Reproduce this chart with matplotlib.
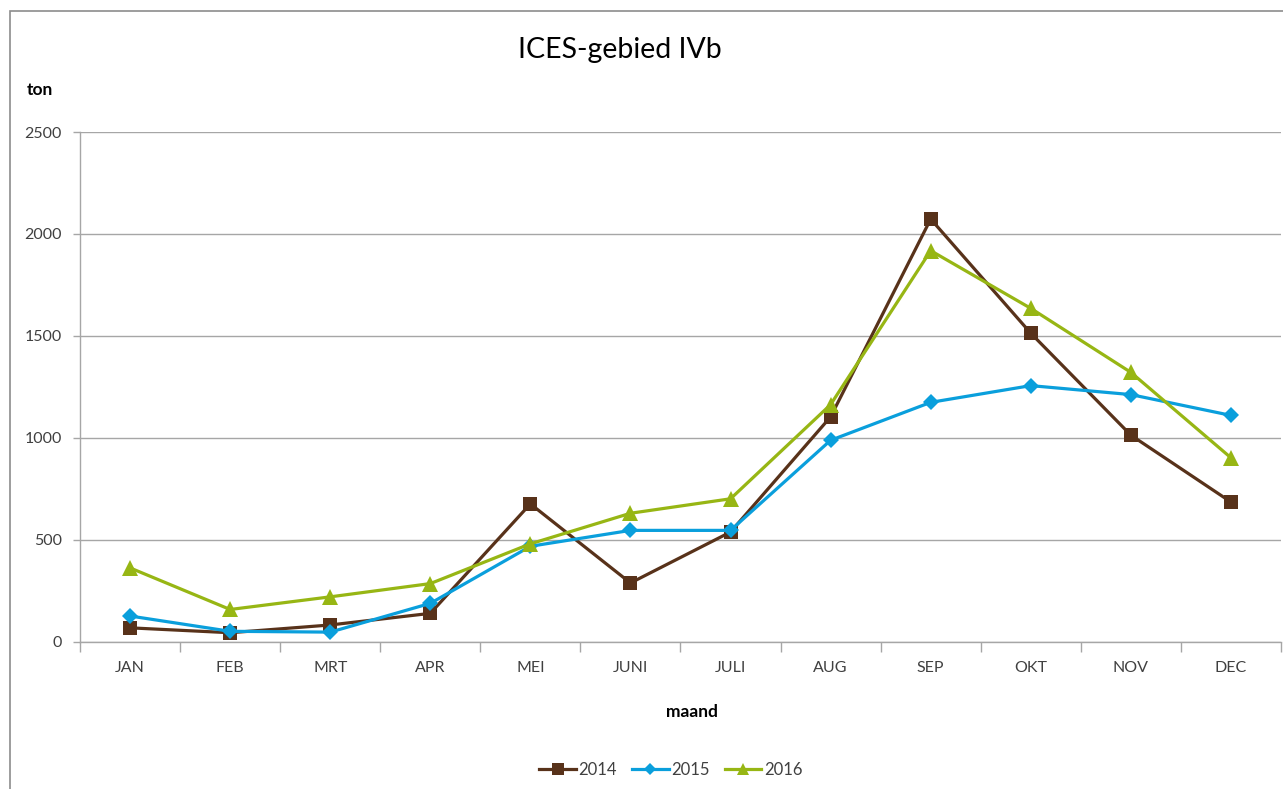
import matplotlib
matplotlib.use("Agg")
import matplotlib.pyplot as plt
import numpy as np
from matplotlib.patches import Rectangle
from matplotlib.ticker import FixedLocator

plt.rcParams["font.family"] = ["Lato", "DejaVu Sans"]

# maandelijkse aanvoer (ton)
maanden = ["JAN", "FEB", "MRT", "APR", "MEI", "JUNI", "JULI", "AUG", "SEP", "OKT", "NOV", "DEC"]
jaren = ["2014", "2015", "2016"]
ton_2014 = [68, 44, 82, 139, 676, 288, 538, 1103, 2073, 1513, 1013, 685]
ton_2015 = [126, 51, 47, 188, 468, 546, 546, 988, 1174, 1256, 1212, 1110]
ton_2016 = [362, 158, 220, 285, 480, 630, 701, 1163, 1918, 1635, 1321, 902]

kleuren = ["#58321A", "#0A9FDC", "#97B614"]
markers = ["s", "D", "^"]
msizes = [10, 8, 11]

W, H = 1283, 789
fig = plt.figure(figsize=(W / 100, H / 100), dpi=100)

# kader om de grafiek
fig.patches.append(Rectangle((9.5 / W, -0.1), 1.2, 1 - 10.5 / H + 0.1,
                             transform=fig.transFigure, fill=False,
                             edgecolor="#8c8c8c", linewidth=1.2))

ax = fig.add_axes([80 / W, 1 - 641.7 / H, (1281 - 80) / W, (641.7 - 132) / H])

x = np.arange(len(maanden))
for reeks, jaar, kleur, m, ms in zip([ton_2014, ton_2015, ton_2016], jaren, kleuren, markers, msizes):
    ax.plot(x, reeks, color=kleur, linewidth=2.3, marker=m, markersize=ms,
            markeredgewidth=0, label=jaar)

ax.set_xlim(-0.5, len(maanden) - 0.5)
ax.set_ylim(0, 2500)
ax.set_yticks(np.arange(0, 2501, 500))
ax.grid(axis="y", color="#a6a6a6", linewidth=1.0)
ax.set_axisbelow(True)

ax.set_xticks(x)
ax.set_xticklabels(maanden)
ax.xaxis.set_minor_locator(FixedLocator(np.arange(-0.5, len(maanden), 1.0)))
ax.tick_params(axis="x", which="major", length=0, pad=14, labelsize=11.5, labelcolor="#404040")
ax.tick_params(axis="x", which="minor", length=7, color="#a6a6a6", width=1.0)
ax.tick_params(axis="y", length=5, color="#a6a6a6", width=1.0, pad=8, labelsize=11.5, labelcolor="#404040")

for side in ["top", "right"]:
    ax.spines[side].set_visible(False)
for side in ["left", "bottom"]:
    ax.spines[side].set_color("#a6a6a6")
    ax.spines[side].set_linewidth(1.0)

fig.text(620 / W, 1 - 50 / H, "ICES-gebied IVb", ha="center", va="center", fontsize=20.5, color="#000000")
fig.text(27 / W, 1 - 90 / H, "ton", ha="left", va="center", fontsize=12.5, fontweight="bold")
fig.text(692 / W, 1 - 712 / H, "maand", ha="center", va="center", fontsize=12.5, fontweight="bold")

fig.legend(loc="center", bbox_to_anchor=(671 / W, 1 - 770 / H), ncol=3, frameon=False,
           fontsize=12, handlelength=2.2, columnspacing=0.9, handletextpad=0.15,
           markerscale=0.8, labelcolor="#404040")

fig.savefig("out.png", dpi=100, facecolor="white")
